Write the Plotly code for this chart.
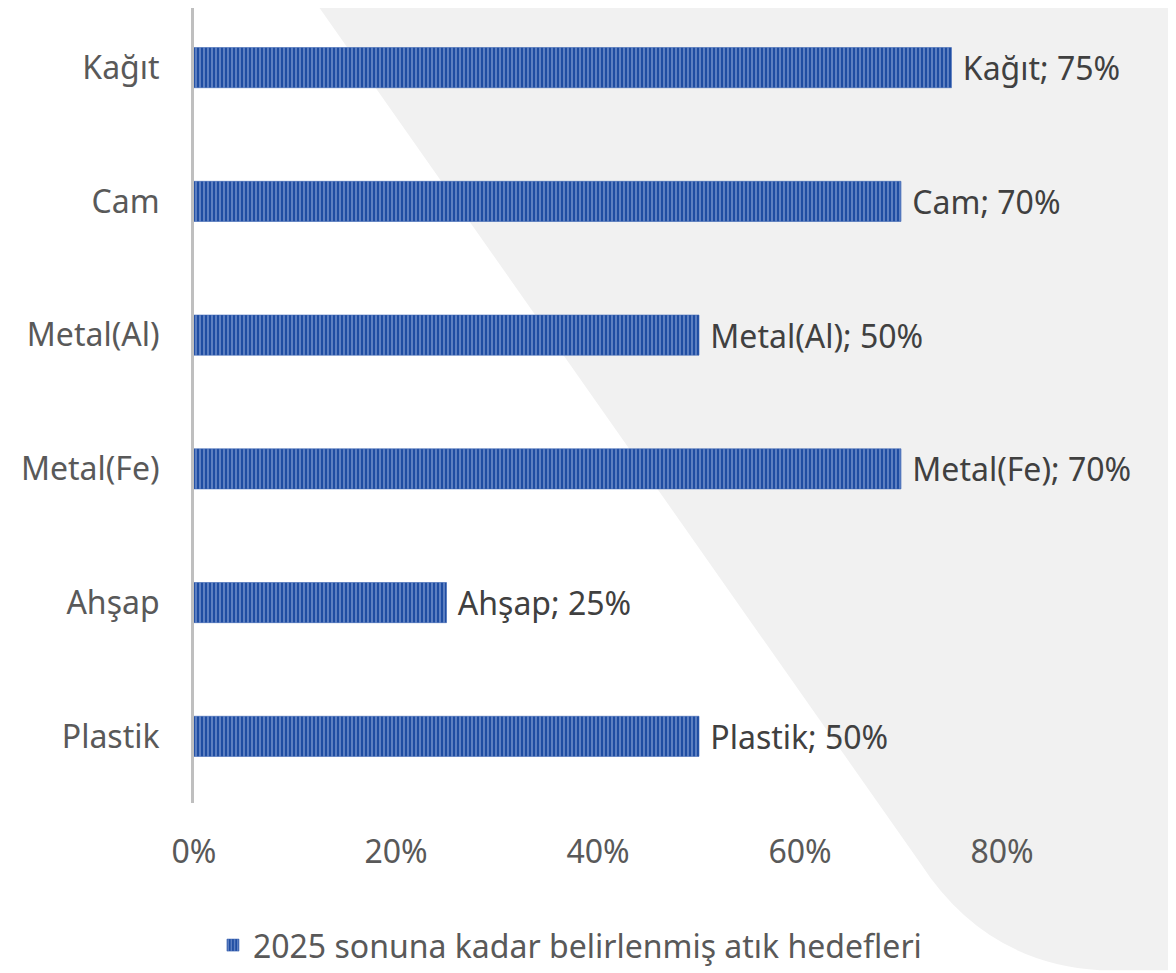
import plotly.graph_objects as go

categories = ["Kağıt", "Cam", "Metal(Al)", "Metal(Fe)", "Ahşap", "Plastik"]
values = [0.75, 0.70, 0.50, 0.70, 0.25, 0.50]
series_name = "2025 sonuna kadar belirlenmiş atık hedefleri"
tick_vals = [0, 0.2, 0.4, 0.6, 0.8]
tick_text = ["0%", "20%", "40%", "60%", "80%"]

# page has an 8px body margin, so the figure is slightly smaller
W, H = 1168, 965
L, R = 186, 1095
T, B = 0, 799
FAMILY = "Noto Sans"
FONT = 32
LABEL_FONT = 32

def px(x):
    return (x - 8 - L) / (R - L)

def py(y):
    return (B - (y - 8)) / (B - T)

bg_path = (
    f"M {px(307):.4f},{py(-10):.4f} "
    f"L {px(920):.4f},{py(867):.4f} "
    f"Q {px(985):.4f},{py(968):.4f} {px(1100):.4f},{py(975):.4f} "
    f"L {px(1180):.4f},{py(975):.4f} "
    f"L {px(1180):.4f},{py(-10):.4f} Z"
)

fig = go.Figure()
fig.add_trace(go.Bar(
    y=categories,
    x=values,
    orientation="h",
    name=series_name,
    width=0.3,
    marker=dict(
        color="#1F4DA2",
        line=dict(color="#3A63B2", width=0.6),
        pattern=dict(shape="|", fgcolor="#B9CCF0", bgcolor="#1F4DA2", size=4, solidity=0.4),
    ),
    text=[f"\u00a0{c}; {int(round(v*100))}%" for c, v in zip(categories, values)],
    textposition="outside",
    constraintext="none",
    textfont=dict(family=FAMILY, size=LABEL_FONT, color="#404040"),
    cliponaxis=False,
    showlegend=True,
))

fig.update_layout(
    width=W, height=H,
    margin=dict(l=L, r=W - R, t=T, b=H - B, pad=0),
    paper_bgcolor="white",
    plot_bgcolor="rgba(0,0,0,0)",
    font=dict(family=FAMILY, size=FONT, color="#595959"),
    shapes=[dict(type="path", path=bg_path, xref="paper", yref="paper",
                 fillcolor="#F1F1F1", line=dict(width=0), layer="below")],
    xaxis=dict(
        range=[0, 0.9], tickvals=tick_vals, ticktext=tick_text,
        showgrid=False, zeroline=False, showline=False,
        tickfont=dict(family=FAMILY, size=FONT, color="#595959"),
        ticks="", ticklabelstandoff=27,
    ),
    yaxis=dict(
        categoryorder="array", categoryarray=categories[::-1],
        range=[-0.4985, 5.446],
        showgrid=False, zeroline=False,
        showline=True, linecolor="#BFBFBF", linewidth=3,
        tickfont=dict(family=FAMILY, size=FONT, color="#595959"),
        ticks="", ticklabelstandoff=25,
    ),
    legend=dict(
        orientation="h", x=0.4136, xanchor="center", y=-0.179, yanchor="middle",
        font=dict(family=FAMILY, size=FONT, color="#595959"), bgcolor="rgba(0,0,0,0)",
        itemwidth=30,
    ),
)

fig.write_html("out.html")
